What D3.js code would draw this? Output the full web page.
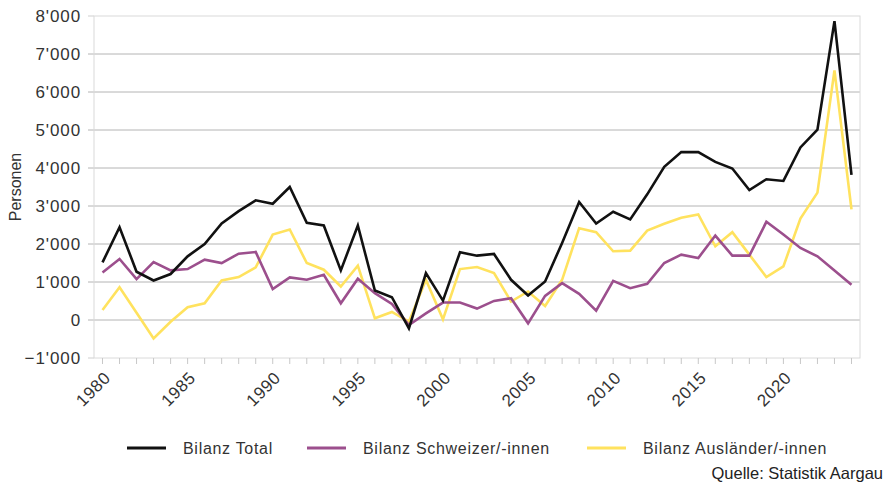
<!DOCTYPE html>
<html>
<head>
<meta charset="utf-8">
<script src="https://cdn.jsdelivr.net/npm/d3@7"></script>
<style>
  body { margin: 0; background: #fff; }
  svg { font-family: "Liberation Sans", Arial, sans-serif; }
</style>
</head>
<body>
<svg width="885" height="484"></svg>
<script>
// years 1980..2024
var years = d3.range(1980, 2025);

var total = [1516, 2442, 1270, 1040, 1210, 1675, 2000, 2540, 2865, 3150, 3060, 3500,
  2557, 2487, 1305, 2487, 776, 600, -220, 1235, 511, 1781, 1693, 1737, 1058, 644,
  1014, 2028, 3104, 2540, 2848, 2646, 3307, 4030, 4418, 4418, 4162, 3986, 3421,
  3704, 3660, 4541, 5009, 7866, 3818];

var schweizer = [1252, 1605, 1076, 1526, 1305, 1340, 1587, 1499, 1746, 1790, 812, 1120,
  1058, 1190, 441, 1085, 705, 423, -132, 176, 459, 459, 300, 503, 573, -88,
  635, 970, 688, 247, 1032, 838, 952, 1499, 1720, 1631, 2222, 1693, 1693,
  2584, 2249, 1896, 1675, 1305, 926];

var auslaender = [265, 864, 190, -485, -45, 335, 441, 1040, 1129, 1384, 2249, 2381,
  1499, 1323, 882, 1429, 44, 212, -44, 1058, 18, 1340, 1393, 1235, 485, 750,
  370, 1058, 2416, 2310, 1808, 1825, 2354, 2531, 2690, 2778, 1940, 2310, 1720,
  1129, 1411, 2672, 3352, 6569, 2910];

var yTicks = [-1000, 0, 1000, 2000, 3000, 4000, 5000, 6000, 7000, 8000];
var xLabels = [1980, 1985, 1990, 1995, 2000, 2005, 2010, 2015, 2020];

var seriesNames = ["Bilanz Total", "Bilanz Schweizer/-innen", "Bilanz Ausländer/-innen"];
var colors = ["#111111", "#9c4f8d", "#ffe25e"];

function drawChart() {
  var svg = d3.select("svg");
  var pLeft = 94, pRight = 860, pTop = 16, pBottom = 358;

  var x = d3.scaleLinear().domain([1979.5, 2024.5]).range([pLeft, pRight]);
  var y = d3.scaleLinear().domain([-1000, 8000]).range([pBottom, pTop]);

  var fmt = function(v) { return d3.format(",")(v).replace(/,/g, "'"); };

  // gridlines
  svg.append("g").selectAll("line")
    .data(yTicks.filter(function(d) { return d > -1000 && d < 8000; }))
    .enter().append("line")
    .attr("x1", pLeft - 6).attr("x2", pRight)
    .attr("y1", function(d) { return y(d); })
    .attr("y2", function(d) { return y(d); })
    .attr("stroke", "#b4b4b4").attr("stroke-width", 1);

  // y ticks on the frame lines
  svg.append("g").selectAll("line")
    .data([-1000, 8000])
    .enter().append("line")
    .attr("x1", pLeft - 6).attr("x2", pLeft)
    .attr("y1", function(d) { return y(d); })
    .attr("y2", function(d) { return y(d); })
    .attr("stroke", "#cfcfcf");

  // frame
  svg.append("rect")
    .attr("x", pLeft).attr("y", pTop)
    .attr("width", pRight - pLeft).attr("height", pBottom - pTop)
    .attr("fill", "none").attr("stroke", "#dadada").attr("stroke-width", 1);

  // y labels
  svg.append("g").selectAll("text")
    .data(yTicks)
    .enter().append("text")
    .attr("x", 81)
    .attr("y", function(d) { return y(d); })
    .attr("dy", "0.36em")
    .attr("text-anchor", "end")
    .attr("font-size", 17)
    .attr("letter-spacing", 0.9)
    .attr("fill", "#333")
    .text(fmt);

  // x ticks
  svg.append("g").selectAll("line")
    .data(years)
    .enter().append("line")
    .attr("x1", function(d) { return x(d); })
    .attr("x2", function(d) { return x(d); })
    .attr("y1", pBottom).attr("y2", pBottom + 6)
    .attr("stroke", "#c8c8c8");

  // x labels
  svg.append("g").selectAll("text")
    .data(xLabels)
    .enter().append("text")
    .attr("transform", function(d) { return "translate(" + (x(d) + 9) + ",379) rotate(-45)"; })
    .attr("text-anchor", "end")
    .attr("font-size", 17)
    .attr("letter-spacing", 0.6)
    .attr("fill", "#333")
    .text(function(d) { return d; });

  // y title
  svg.append("text")
    .attr("transform", "translate(21,187) rotate(-90)")
    .attr("text-anchor", "middle")
    .attr("font-size", 16)
    .attr("fill", "#333")
    .text("Personen");

  // lines
  var line = d3.line()
    .x(function(d, i) { return x(years[i]); })
    .y(function(d) { return y(d); });

  var allSeries = [auslaender, schweizer, total];
  var seriesColors = [colors[2], colors[1], colors[0]];
  svg.append("g").selectAll("path")
    .data(allSeries)
    .enter().append("path")
    .attr("d", line)
    .attr("fill", "none")
    .attr("stroke", function(d, i) { return seriesColors[i]; })
    .attr("stroke-width", 2.6)
    .attr("stroke-linejoin", "miter");

  // legend
  var legX = [127, 307, 587];
  var leg = svg.append("g").selectAll("g")
    .data(seriesNames)
    .enter().append("g")
    .attr("transform", function(d, i) { return "translate(" + legX[i] + ",448)"; });
  leg.append("line")
    .attr("x1", 0).attr("x2", 39)
    .attr("stroke", function(d, i) { return colors[i]; })
    .attr("stroke-width", 3);
  leg.append("text")
    .attr("x", 56)
    .attr("dy", "0.35em")
    .attr("font-size", 16)
    .attr("letter-spacing", 0.7)
    .attr("fill", "#333")
    .text(function(d) { return d; });

  // source
  svg.append("text")
    .attr("x", 883).attr("y", 473)
    .attr("dy", "0.35em")
    .attr("text-anchor", "end")
    .attr("font-size", 16.5)
    .attr("fill", "#222")
    .text("Quelle: Statistik Aargau");
}

drawChart();
</script>
</body>
</html>
